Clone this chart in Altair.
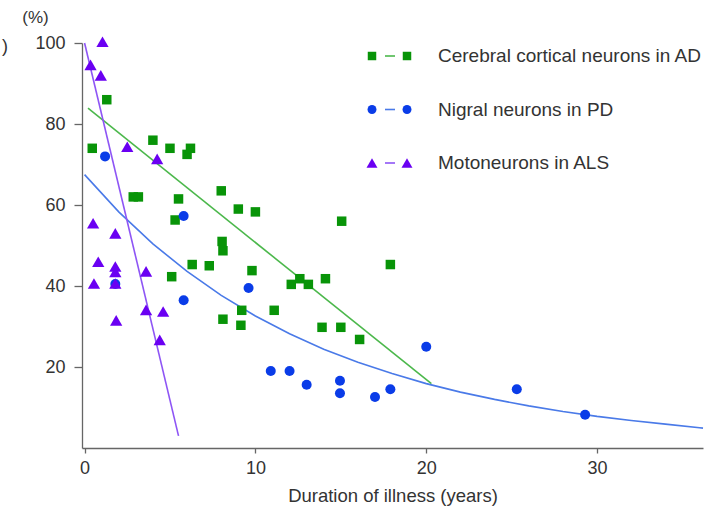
import altair as alt
import pandas as pd

# ---- data ----
ad_x = [0.45, 1.3, 2.85, 3.15, 4.0, 5.0, 6.0, 6.2, 5.5, 5.3, 5.1, 6.3, 7.3, 8.0, 8.05, 8.1,
        8.1, 9.0, 10.0, 9.2, 9.15, 9.8, 11.1, 12.1, 12.6, 13.1, 14.1, 13.9, 15.0, 15.05, 16.1, 17.9]
ad_y = [74, 86, 62, 62, 76, 74, 72.5, 74, 61.5, 56.3, 42.3, 45.3, 45.0, 63.5, 51, 48.7,
        31.8, 59, 58.3, 34, 30.3, 43.8, 34, 40.4, 41.8, 40.4, 41.8, 29.8, 29.8, 56, 26.8, 45.3]

pd_x = [1.2, 5.8, 1.8, 5.8, 9.6, 10.9, 12.0, 13.0, 14.95, 14.95, 17.0, 17.9, 20.0, 25.3, 29.3]
pd_y = [72, 57.3, 40.5, 36.5, 39.5, 19, 19, 15.6, 16.6, 13.5, 12.6, 14.5, 25, 14.5, 8.2]

als_x = [1.05, 0.35, 0.95, 2.5, 4.25, 0.5, 1.8, 0.8, 1.8, 1.8, 0.55, 1.8, 3.6, 1.85, 3.6, 4.6, 4.4]
als_y = [100.3, 94.6, 92, 74.4, 71.4, 55.5, 53, 46, 44.8, 43.5, 40.6, 40.6, 43.6, 31.5, 34.1, 33.7, 26.7]

# fitted lines
ad_fit_x = [0.2, 20.3]
ad_fit_y = [83.9, 15.9]
als_fit_x = [0.0, 5.5]
als_fit_y = [100, 3]
pd_fit_x = [0, 2, 4, 6, 8, 10, 12, 14, 16, 18, 20, 22, 24, 26, 28, 30, 32, 34, 36, 36.2]
pd_fit_y = [67.5, 58.3, 50.4, 43.6, 37.7, 32.6, 28.2, 24.4, 21.2, 18.4, 15.9, 13.8, 12.0,
            10.4, 9.0, 7.8, 6.8, 5.9, 5.0, 4.9]

labels = ["Cerebral cortical neurons in AD", "Nigral neurons in PD", "Motoneurons in ALS"]
x_ticks = [0, 10, 20, 30]
y_ticks = [20, 40, 60, 80, 100]

FONT = "Liberation Sans"
W, H = 621, 405

series = [
    dict(px=ad_x, py=ad_y, fx=ad_fit_x, fy=ad_fit_y, shape="square", size=90,
         mcol="#089408", lcol="#4cb84c"),
    dict(px=pd_x, py=pd_y, fx=pd_fit_x, fy=pd_fit_y, shape="circle", size=100,
         mcol="#0a3ce8", lcol="#4a7ae8"),
    dict(px=als_x, py=als_y, fx=als_fit_x, fy=als_fit_y, shape="triangle-up", size=150,
         mcol="#6a00f2", lcol="#8e55f5"),
]

xs = alt.Scale(domain=[-0.15, 36.2], nice=False, zero=False)
ys = alt.Scale(domain=[0, 100], nice=False)

x_axis = alt.Axis(values=x_ticks, title="Duration of illness (years)", tickSize=5,
                  labelPadding=6, titlePadding=9, grid=False)
y_axis = alt.Axis(values=y_ticks, title="(%)", titleAngle=0, titleX=-47, titleY=-26,
                  titleAlign="center", titleBaseline="middle", tickSize=8, labelPadding=9,
                  titleFontSize=17, grid=False)

layers = []
for i, s in enumerate(series):
    fit = pd.DataFrame({"x": s["fx"], "y": s["fy"]})
    layers.append(
        alt.Chart(fit).mark_line(color=s["lcol"], strokeWidth=1.6).encode(
            x=alt.X("x:Q", scale=xs, axis=x_axis),
            y=alt.Y("y:Q", scale=ys, axis=y_axis),
        )
    )
for i, s in enumerate(series):
    pts = pd.DataFrame({"x": s["px"], "y": s["py"]})
    layers.append(
        alt.Chart(pts).mark_point(shape=s["shape"], size=s["size"], filled=True,
                                  opacity=1, color=s["mcol"]).encode(
            x=alt.X("x:Q", scale=xs, axis=x_axis),
            y=alt.Y("y:Q", scale=ys, axis=y_axis),
        )
    )

# legend drawn by hand
one = pd.DataFrame({"k": [0]})
for i, s in enumerate(series):
    yy = 13 + 53.5 * i
    for xx in (290, 325):
        layers.append(
            alt.Chart(one).mark_point(shape=s["shape"], size=s["size"] * 0.8, filled=True,
                                      opacity=1, color=s["mcol"]).encode(
                x=alt.value(xx), y=alt.value(yy))
        )
    layers.append(
        alt.Chart(one).mark_rule(color=s["lcol"], strokeWidth=1.6).encode(
            x=alt.value(303), x2=alt.value(313), y=alt.value(yy))
    )
    lab = pd.DataFrame({"t": [labels[i]]})
    layers.append(
        alt.Chart(lab).mark_text(align="left", baseline="middle", font=FONT, fontSize=19,
                                 color="#333333").encode(
            x=alt.value(356), y=alt.value(yy), text="t:N")
    )

# stray ")" at top-left edge of the reference
par = pd.DataFrame({"t": [")"]})
layers.append(
    alt.Chart(par).mark_text(align="left", baseline="middle", font=FONT, fontSize=18,
                             color="#333333").encode(
        x=alt.value(-80), y=alt.value(4), text="t:N")
)

chart = alt.layer(*layers).properties(
    width=W, height=H,
    autosize=alt.AutoSizeParams(type="none"),
    padding={"left": 82, "top": 43, "right": 12, "bottom": 60},
).configure_view(stroke=None).configure_axis(
    labelFont=FONT, titleFont=FONT, labelFontSize=18, titleFontSize=18.5,
    titleFontWeight="normal", labelColor="#333333", titleColor="#333333",
    domainColor="#666666", tickColor="#666666", domainWidth=1.3, tickWidth=1.3,
)

chart.save("out.html", embed_options={"renderer": "svg", "actions": False})
